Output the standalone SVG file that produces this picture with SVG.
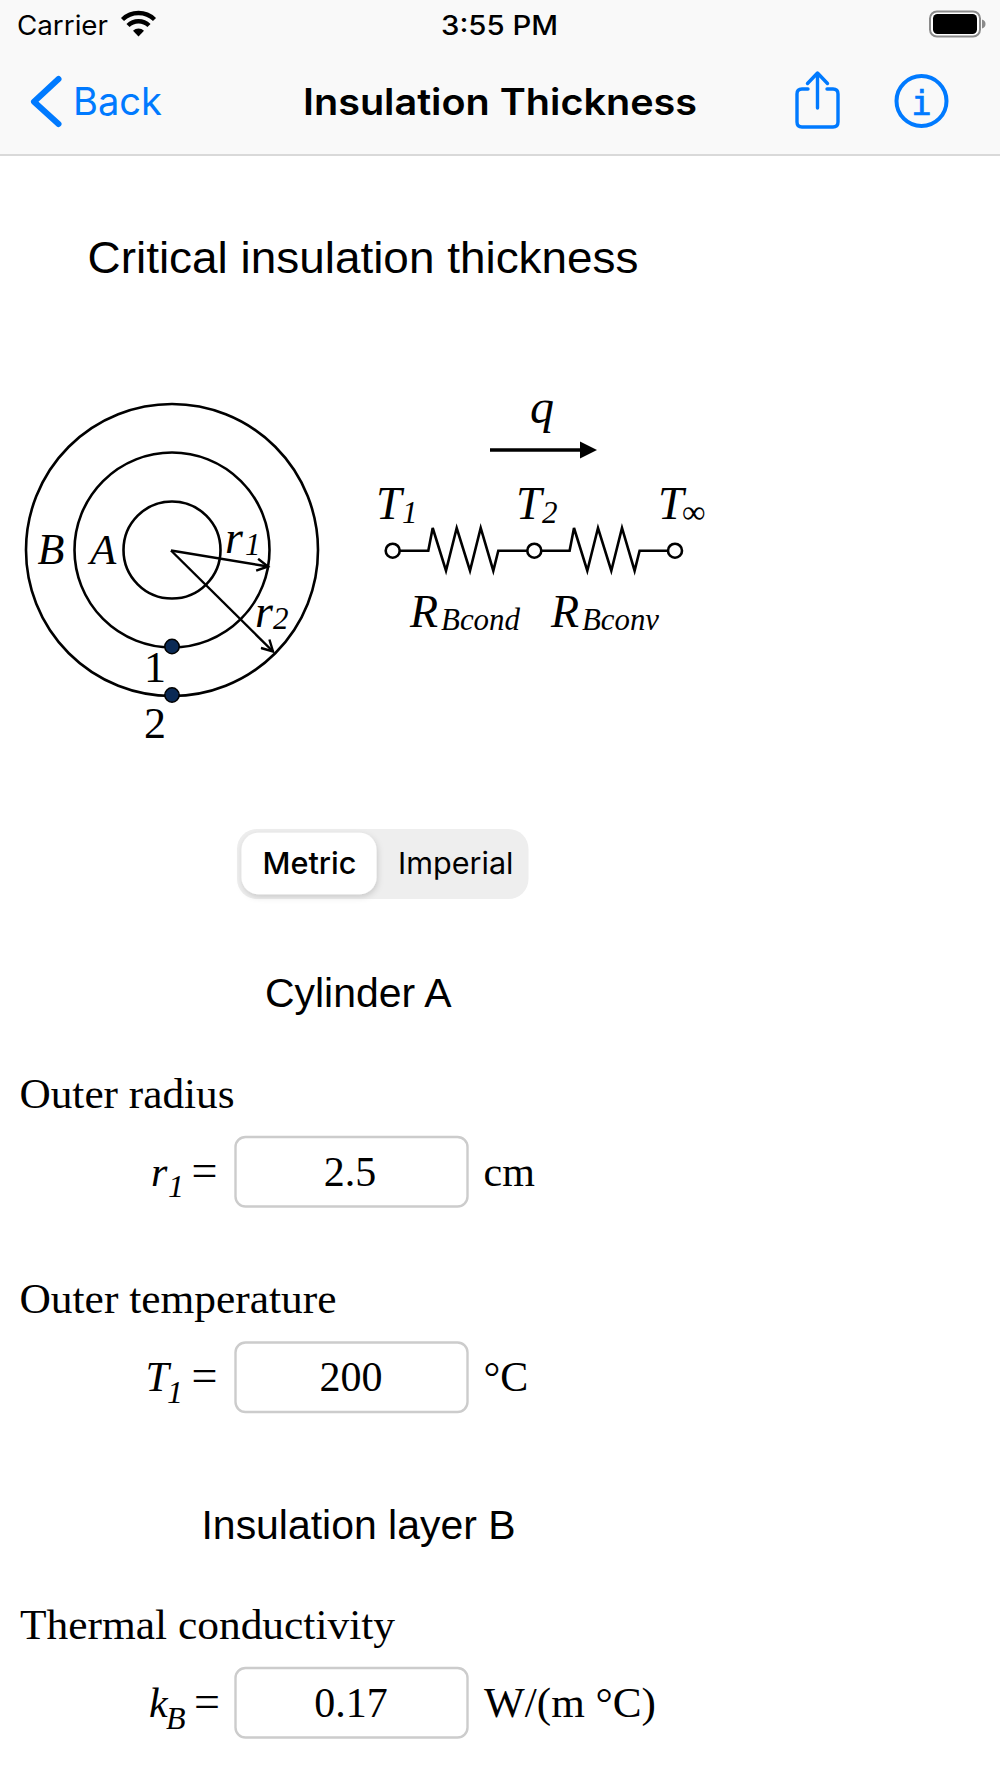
<svg xmlns="http://www.w3.org/2000/svg" width="1000" height="1778" viewBox="0 0 1000 1778">
<defs>
<style>
text{fill:#000}
.ui{font-family:"Inter","Noto Sans",sans-serif}
.sans{font-family:"Liberation Sans",Arial,sans-serif}
.serif{font-family:"Liberation Serif","Times New Roman",serif}
.it{font-family:"Liberation Serif","Times New Roman",serif;font-style:italic}
.dia{fill:none;stroke:#000;stroke-width:2.6}
.blue{fill:none;stroke:#007aff;stroke-linecap:round;stroke-linejoin:round}
.box{fill:#fff;stroke:#cccccc;stroke-width:2.4}
.dot{fill:#0b2a55;stroke:#000;stroke-width:1.5}
.term{fill:#fff;stroke:#000;stroke-width:2.6}
</style>
<marker id="open" markerWidth="16" markerHeight="14" refX="12" refY="7" orient="auto" markerUnits="userSpaceOnUse"><path d="M1 1 L12 7 L1 13" fill="none" stroke="#000" stroke-width="2.400"/></marker>
<filter id="sh" x="-10%" y="-10%" width="125%" height="125%"><feDropShadow dx="1" dy="2.5" stdDeviation="3" flood-color="#000" flood-opacity="0.16"/></filter>
</defs>
<rect width="1000" height="1778" fill="#fff"/>

<g id="nav-bar">
<rect width="1000" height="154" fill="#f9f9f9"/>
<rect y="154" width="1000" height="2" fill="#d9d9d9"/>
<text class="ui" x="17" y="35" font-size="27" textLength="91" lengthAdjust="spacingAndGlyphs">Carrier</text>
<g id="wifi" fill="none" stroke="#000" stroke-width="4.4">
<path d="M122.500 19.500A23 23 0 0 1 154.500 19.500"/>
<path d="M128 25.500A15 15 0 0 1 149 25.500"/>
</g>
<path d="M133 30.800A8 8 0 0 1 144 30.800L138.500 36.500Z" fill="#000"/>
<text class="ui" x="499.500" y="35" font-size="27" font-weight="500" text-anchor="middle" textLength="117" lengthAdjust="spacingAndGlyphs">3:55 PM</text>
<g id="battery">
<rect x="930" y="11.500" width="50" height="25" rx="7" fill="#fff" stroke="#8a8a8a" stroke-width="2"/>
<rect x="933" y="14" width="44" height="20" rx="4.500" fill="#000"/>
<path d="M982 19.500c2.500 .8 3.500 2.500 3.500 4.500s-1 3.700-3.500 4.500z" fill="#8a8a8a"/>
</g>
<path class="blue" stroke-width="6" d="M58.500 79 L34 101.700 L58.500 124"/>
<text class="ui" x="73" y="115" font-size="38" style="fill:#007aff" textLength="89" lengthAdjust="spacingAndGlyphs">Back</text>
<text class="ui" x="500" y="115" font-size="37" font-weight="600" text-anchor="middle" textLength="394" lengthAdjust="spacingAndGlyphs">Insulation Thickness</text>
<g id="share-icon" class="blue" stroke-width="3.400">
<path d="M808 89 H802 Q797 89 797 94 V122 Q797 127 802 127 H833 Q838 127 838 122 V94 Q838 89 833 89 H827"/>
<path d="M817.500 108 V73.500 M807.500 83.500 L817.500 73 L827.500 83.500"/>
</g>
<g id="info-icon">
<circle cx="921.500" cy="101" r="25" class="blue" stroke-width="4"/>
<text x="921.500" y="115" font-size="34" text-anchor="middle" font-family="'DejaVu Sans Mono',monospace" style="fill:#007aff;stroke:#007aff;stroke-width:.7">i</text>
</g>
</g>

<g id="heading"><text class="sans" x="87.500" y="272.500" font-size="44" textLength="551" lengthAdjust="spacingAndGlyphs">Critical insulation thickness</text></g>

<g id="cylinder-diagram">
<circle class="dia" cx="172" cy="550" r="146"/>
<circle class="dia" cx="172" cy="550" r="97.500"/>
<circle class="dia" cx="172" cy="550" r="48.500"/>
<text class="it" x="37.500" y="564" font-size="44">B</text>
<text class="it" x="90" y="564" font-size="43">A</text>
<text class="it" x="225" y="552.500" font-size="46">r</text>
<text class="it" x="245" y="555" font-size="31">1</text>
<text class="it" x="255" y="626.500" font-size="46">r</text>
<text class="it" x="273" y="629" font-size="31">2</text>
<circle class="dot" cx="172" cy="646.500" r="7.200"/>
<circle class="dot" cx="172" cy="695" r="7.200"/>
<text class="serif" x="155" y="681.500" font-size="44" text-anchor="middle">1</text>
<text class="serif" x="155" y="737.500" font-size="44" text-anchor="middle">2</text>
</g>

<g id="resistance-network">
<text class="it" x="530" y="423" font-size="48">q</text>
<text class="it" x="376" y="519" font-size="46">T</text>
<text class="it" x="402" y="523" font-size="31">1</text>
<text class="it" x="516" y="519" font-size="46">T</text>
<text class="it" x="542" y="523" font-size="31">2</text>
<text class="it" x="658" y="519" font-size="46">T</text>
<text class="serif" x="682" y="523" font-size="33">∞</text>
<text class="it" x="410" y="626.500" font-size="46">R</text>
<text class="it" x="441" y="630" font-size="31" textLength="79" lengthAdjust="spacingAndGlyphs">Bcond</text>
<text class="it" x="551" y="626.500" font-size="46">R</text>
<text class="it" x="582" y="630" font-size="31" textLength="77" lengthAdjust="spacingAndGlyphs">Bconv</text>
</g>

<g id="connectors">
<path d="M171 550.500 L268 566.500" fill="none" stroke="#000" stroke-width="2.400" marker-end="url(#open)"/>
<path d="M171 550.500 L273 651.500" fill="none" stroke="#000" stroke-width="2.400" marker-end="url(#open)"/>
<path d="M490 450 H582" fill="none" stroke="#000" stroke-width="3.300"/>
<path d="M580 441.500 L597 450 L580 458.500Z" fill="#000"/>
<path class="dia" d="M399.500 550.700 H428.300 L432.700 528 L446 570.700 L456.700 528 L470 570.700 L480.700 528 L493.300 570.700 L498.300 550.700 H527.500"/>
<path class="dia" d="M541 550.700 H569.600 L574 528 L587.300 570.700 L598 528 L611.300 570.700 L622 528 L634.600 570.700 L639.600 550.700 H668"/>
<circle class="term" cx="392.700" cy="550.700" r="7"/>
<circle class="term" cx="534.300" cy="550.700" r="7"/>
<circle class="term" cx="675" cy="550.700" r="7"/>
</g>

<g id="unit-segment">
<rect x="237" y="829" width="291.500" height="70" rx="20" fill="#eeeeee"/>
<rect x="241.500" y="832.700" width="135" height="61.500" rx="17" fill="#fff" filter="url(#sh)"/>
<text class="ui" x="262.500" y="874" font-size="30" font-weight="500" textLength="94" lengthAdjust="spacingAndGlyphs">Metric</text>
<text class="ui" x="398" y="874" font-size="30" textLength="115.500" lengthAdjust="spacingAndGlyphs">Imperial</text>
</g>

<g id="cylinder-a-title"><text class="sans" x="265" y="1007" font-size="40" textLength="186.500" lengthAdjust="spacingAndGlyphs">Cylinder A</text></g>

<g id="outer-radius">
<text class="serif" x="19.500" y="1108" font-size="43" textLength="215" lengthAdjust="spacingAndGlyphs">Outer radius</text>
<text class="it" x="151" y="1186" font-size="42">r</text>
<text class="it" x="168" y="1197" font-size="32">1</text>
<text class="serif" x="191.500" y="1186" font-size="46">=</text>
<rect class="box" x="235.500" y="1137" width="232" height="69.500" rx="10"/>
<text class="serif" x="350" y="1186" font-size="42" text-anchor="middle">2.5</text>
<text class="serif" x="483.500" y="1186" font-size="42">cm</text>
</g>

<g id="outer-temperature">
<text class="serif" x="19.500" y="1313" font-size="43" textLength="317" lengthAdjust="spacingAndGlyphs">Outer temperature</text>
<text class="it" x="145.500" y="1391" font-size="42">T</text>
<text class="it" x="167" y="1403" font-size="32">1</text>
<text class="serif" x="191.500" y="1391" font-size="46">=</text>
<rect class="box" x="235.500" y="1342.500" width="232" height="69.500" rx="10"/>
<text class="serif" x="351" y="1391" font-size="42" text-anchor="middle">200</text>
<text class="serif" x="483.500" y="1391" font-size="42">°C</text>
</g>

<g id="insulation-b-title"><text class="sans" x="201.500" y="1539" font-size="40" textLength="314" lengthAdjust="spacingAndGlyphs">Insulation layer B</text></g>

<g id="thermal-conductivity">
<text class="serif" x="20" y="1639" font-size="43" textLength="375" lengthAdjust="spacingAndGlyphs">Thermal conductivity</text>
<text class="it" x="149" y="1717" font-size="42">k</text>
<text class="it" x="166" y="1729" font-size="32">B</text>
<text class="serif" x="194" y="1717" font-size="46">=</text>
<rect class="box" x="235.500" y="1668" width="232" height="69.500" rx="10"/>
<text class="serif" x="351" y="1717" font-size="42" text-anchor="middle">0.17</text>
<text class="serif" x="484" y="1717" font-size="42" textLength="172" lengthAdjust="spacingAndGlyphs">W/(m °C)</text>
</g>
</svg>
